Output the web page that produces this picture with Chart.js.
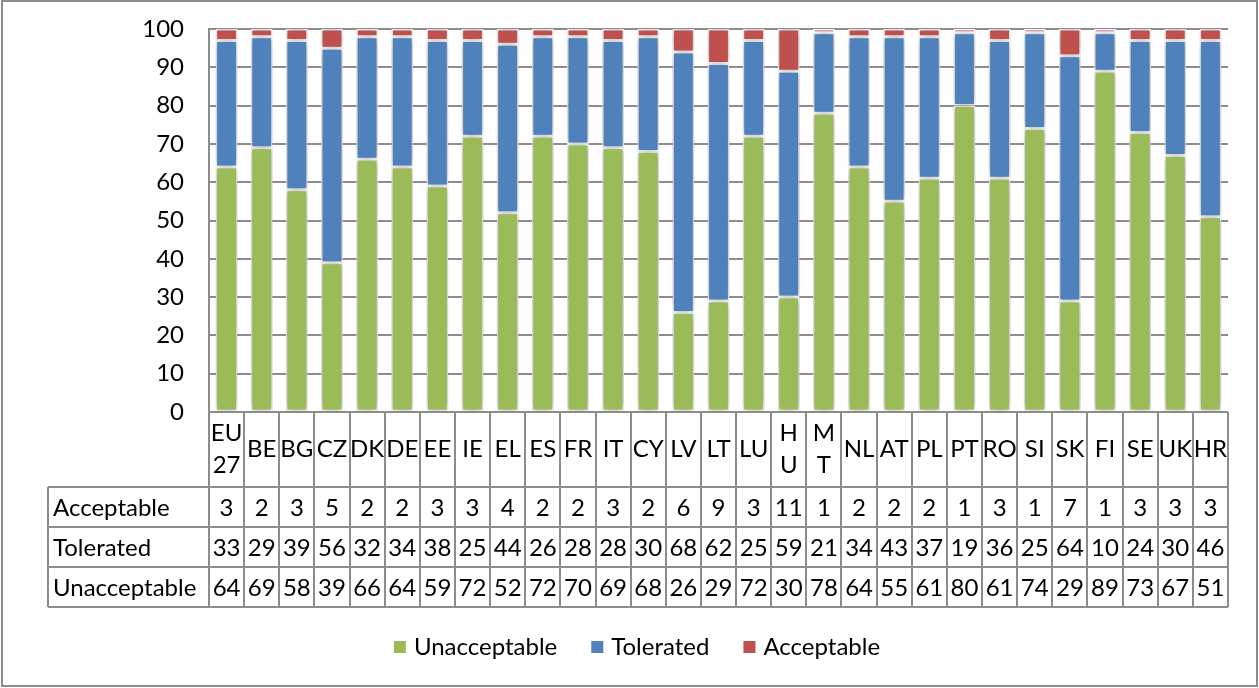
<!DOCTYPE html>
<html>
<head>
<meta charset="utf-8">
<script src="https://cdn.jsdelivr.net/npm/chart.js@4.4.1/dist/chart.umd.min.js"></script>
<style>
  html, body { margin: 0; padding: 0; background: #ffffff; }
  #wrap { width: 1259px; height: 688px; position: relative; }
</style>
</head>
<body>
<div id="wrap"><canvas id="c" width="1259" height="688"></canvas></div>
<script>
// Country codes (multi-line entries wrap inside the data-table header cells)
const categories = [['EU', '27'], 'BE', 'BG', 'CZ', 'DK', 'DE', 'EE', 'IE', 'EL', 'ES', 'FR', 'IT', 'CY', 'LV', 'LT', 'LU',
  ['H', 'U'], ['M', 'T'], 'NL', 'AT', 'PL', 'PT', 'RO', 'SI', 'SK', 'FI', 'SE', 'UK', 'HR'];

// Shares of respondents (%)
const acceptable   = [3, 2, 3, 5, 2, 2, 3, 3, 4, 2, 2, 3, 2, 6, 9, 3, 11, 1, 2, 2, 2, 1, 3, 1, 7, 1, 3, 3, 3];
const tolerated    = [33, 29, 39, 56, 32, 34, 38, 25, 44, 26, 28, 28, 30, 68, 62, 25, 59, 21, 34, 43, 37, 19, 36, 25, 64, 10, 24, 30, 46];
const unacceptable = [64, 69, 58, 39, 66, 64, 59, 72, 52, 72, 70, 69, 68, 26, 29, 72, 30, 78, 64, 55, 61, 80, 61, 74, 29, 89, 73, 67, 51];

const yTicks = [0, 10, 20, 30, 40, 50, 60, 70, 80, 90, 100];

const FONT = 'Lato, "Open Sans", sans-serif';
const FONT_SIZE = 24;
const LINE = '#8c8c8c';
const COLORS = { Unacceptable: '#9bbb59', Tolerated: '#4f81bd', Acceptable: '#c0504d' };

// Soft drop shadow behind the bars
const barShadow = {
  id: 'barShadow',
  beforeDatasetsDraw(chart) {
    const ctx = chart.ctx;
    ctx.save();
    ctx.shadowColor = 'rgba(0,0,0,0.4)';
    ctx.shadowBlur = 8;
    ctx.shadowOffsetX = 0;
    ctx.shadowOffsetY = 0;
  },
  afterDatasetsDraw(chart) {
    chart.ctx.restore();
  }
};

// Data table under the plot, legend and outer frame
const dataTable = {
  id: 'dataTable',
  afterDraw(chart) {
    const ctx = chart.ctx;
    const area = chart.chartArea;
    const x = chart.scales.x;
    const n = categories.length;
    const colW = (area.right - area.left) / n;
    const top = area.bottom;
    const headH = 75, rowH = 40;
    const labelLeft = 48;
    const rows = [
      { name: 'Acceptable', values: acceptable },
      { name: 'Tolerated', values: tolerated },
      { name: 'Unacceptable', values: unacceptable }
    ];
    const bottom = top + headH + rowH * rows.length;

    ctx.save();
    ctx.strokeStyle = LINE;
    ctx.lineWidth = 2;
    ctx.beginPath();
    // vertical column lines
    for (let i = 0; i <= n; i++) {
      const xx = Math.round(area.left + i * colW);
      ctx.moveTo(xx, top);
      ctx.lineTo(xx, bottom);
    }
    ctx.moveTo(labelLeft, top + headH);
    ctx.lineTo(labelLeft, bottom);
    // horizontal row lines
    ctx.moveTo(area.left, top);
    ctx.lineTo(area.right, top);
    for (let r = 0; r <= rows.length; r++) {
      const yy = top + headH + r * rowH;
      ctx.moveTo(labelLeft, yy);
      ctx.lineTo(area.right, yy);
    }
    ctx.stroke();

    ctx.fillStyle = '#000000';
    ctx.font = FONT_SIZE + 'px ' + FONT;
    ctx.textBaseline = 'middle';
    ctx.textAlign = 'center';
    // header cells
    categories.forEach((c, i) => {
      const cx = x.getPixelForValue(i);
      if (Array.isArray(c)) {
        ctx.fillText(c[0], cx, top + 21);
        ctx.fillText(c[1], cx, top + 53);
      } else {
        ctx.fillText(c, cx, top + headH / 2);
      }
    });
    // value rows
    rows.forEach((row, r) => {
      const cy = top + headH + r * rowH + rowH / 2 + 1;
      ctx.textAlign = 'left';
      ctx.fillText(row.name, labelLeft + 5, cy);
      ctx.textAlign = 'center';
      row.values.forEach((v, i) => ctx.fillText(String(v), x.getPixelForValue(i), cy));
    });

    // legend
    const items = chart.data.datasets.map(d => ({ label: d.label, color: d.backgroundColor }));
    const box = 12, gapBox = 8, gapItem = 34;
    const widths = items.map(it => box + gapBox + ctx.measureText(it.label).width);
    const total = widths.reduce((a, b) => a + b, 0) + gapItem * (items.length - 1);
    let lx = 637 - total / 2;
    const ly = 647;
    ctx.textAlign = 'left';
    items.forEach((it, k) => {
      ctx.fillStyle = it.color;
      ctx.fillRect(lx, ly - box / 2, box, box);
      ctx.fillStyle = '#000000';
      ctx.fillText(it.label, lx + box + gapBox, ly);
      lx += widths[k] + gapItem;
    });

    // outer frame
    ctx.strokeStyle = LINE;
    ctx.lineWidth = 2;
    ctx.strokeRect(2, 1, 1255, 685);
    ctx.restore();
  }
};

new Chart(document.getElementById('c'), {
  type: 'bar',
  data: {
    labels: categories,
    datasets: [
      { label: 'Unacceptable', data: unacceptable, backgroundColor: COLORS.Unacceptable },
      { label: 'Tolerated', data: tolerated, backgroundColor: COLORS.Tolerated },
      { label: 'Acceptable', data: acceptable, backgroundColor: COLORS.Acceptable }
    ]
  },
  options: {
    responsive: false,
    animation: false,
    devicePixelRatio: 1,
    layout: { padding: { left: 10, right: 31, top: 29, bottom: 276 } },
    datasets: {
      bar: {
        categoryPercentage: 1,
        barPercentage: 0.62,
        borderColor: '#ffffff',
        borderWidth: 1.5,
        borderSkipped: false
      }
    },
    plugins: {
      legend: { display: false },
      tooltip: { enabled: false }
    },
    scales: {
      x: {
        stacked: true,
        display: false
      },
      y: {
        stacked: true,
        min: 0,
        max: 100,
        afterBuildTicks(scale) { scale.ticks = yTicks.map(v => ({ value: v })); },
        afterFit(scale) {
          scale.width = 199;
          scale.paddingTop = 0;
          scale.paddingBottom = 0;
        },
        border: { display: true, color: LINE, width: 2 },
        grid: { color: LINE, lineWidth: 2, drawTicks: false },
        ticks: {
          padding: 25,
          color: '#000000',
          font: { family: FONT, size: FONT_SIZE }
        }
      }
    }
  },
  plugins: [barShadow, dataTable]
});
</script>
</body>
</html>
